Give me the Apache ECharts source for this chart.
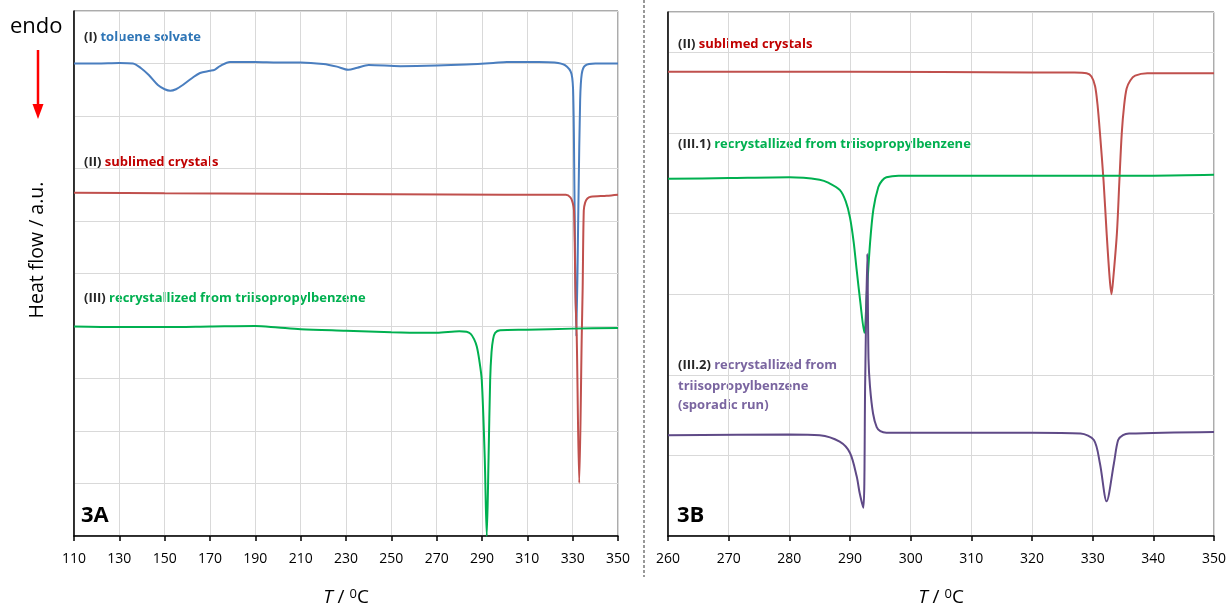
<!DOCTYPE html>
<html>
<head>
<meta charset="utf-8">
<script src="https://cdn.jsdelivr.net/npm/echarts@6/dist/echarts.min.js"></script>
<style>
  html, body { margin: 0; padding: 0; background: #fff; }
  #main { width: 1231px; height: 607px; }
</style>
</head>
<body>
<div id="main"></div>
<script>
// --- data (T in degC, heat flow in arbitrary units) ---
// panel 3A
var tolueneT  = [110, 120, 130, 136, 139.6, 143, 147, 150, 152.5, 155, 158, 162, 165.6, 170, 172, 174.4, 178.8, 190, 200, 210, 220, 226, 231, 235, 240, 254, 270, 283, 295, 301, 315, 322, 326.6, 329.5, 330.3, 330.8, 331.6, 332.6, 333.3, 334.0, 335.5, 340, 350];
var tolueneHF = [9.0, 9.0, 9.01, 9.0, 8.91, 8.78, 8.59, 8.51, 8.48, 8.51, 8.59, 8.72, 8.82, 8.86, 8.88, 8.95, 9.03, 9.03, 9.02, 9.02, 8.99, 8.94, 8.88, 8.92, 8.97, 8.95, 8.96, 8.98, 9.01, 9.03, 9.03, 9.02, 8.97, 8.8, 8.3, 6.5, 3.8, 6.5, 8.3, 8.8, 8.96, 9.0, 9.0];

var sublimedAT  = [110, 150, 200, 250, 300, 325, 327, 329, 330, 330.6, 331.3, 331.8, 332.9, 334.0, 334.4, 334.9, 335.5, 336.5, 338, 345, 350];
var sublimedAHF = [6.54, 6.53, 6.52, 6.51, 6.5, 6.5, 6.5, 6.45, 6.35, 6.2, 4.5, 3.79, 1.01, 3.79, 4.7, 6.2, 6.35, 6.43, 6.46, 6.48, 6.5];

var recrystAT  = [110, 130, 150, 170, 190, 200, 210, 230, 250, 265, 270, 280, 283.2, 285, 286.5, 287.7, 288.8, 289.9, 291.2, 292.1, 292.9, 293.6, 294.2, 294.9, 295.8, 298, 310, 330, 350];
var recrystAHF = [3.99, 3.98, 3.98, 3.99, 4.0, 3.97, 3.94, 3.91, 3.88, 3.87, 3.87, 3.9, 3.89, 3.85, 3.75, 3.61, 3.35, 2.97, 1.5, 0, 1.5, 2.97, 3.5, 3.75, 3.87, 3.92, 3.93, 3.95, 3.96];

// panel 3B
var sublimedBT  = [260, 290, 320, 327, 329, 329.8, 330.4, 330.8, 331.2, 331.8, 332.3, 332.8, 333.1, 333.4, 334.0, 334.4, 334.8, 335.2, 335.6, 336.2, 337, 339, 350];
var sublimedBHF = [5.76, 5.76, 5.75, 5.75, 5.74, 5.70, 5.58, 5.35, 5.0, 4.4, 3.76, 3.2, 3.0, 3.2, 3.76, 4.4, 5.0, 5.35, 5.55, 5.65, 5.71, 5.74, 5.74];

var recryst1T  = [260, 270, 280, 285, 286.5, 288.35, 289.3, 290, 290.6, 291.1, 291.7, 292.36, 292.8, 293.3, 293.85, 294.67, 295.3, 296, 298, 320, 340, 350];
var recryst1HF = [4.43, 4.44, 4.45, 4.42, 4.38, 4.29, 4.15, 3.95, 3.65, 3.30, 2.9, 2.52, 3.05, 3.63, 4.05, 4.33, 4.41, 4.45, 4.47, 4.47, 4.47, 4.48];

var recryst2T  = [260, 280, 285, 288.3, 290, 291.1, 291.6, 292.2, 292.5, 292.85, 293.05, 293.3, 293.8, 294.4, 295, 296, 300, 320, 328, 330.2, 331.2, 332.3, 333.5, 334.2, 335, 336, 350];
var recryst2HF = [1.25, 1.26, 1.25, 1.17, 1.03, 0.74, 0.53, 0.35, 1.9, 3.50, 2.2, 1.85, 1.52, 1.35, 1.3, 1.28, 1.28, 1.28, 1.27, 1.19, 0.9, 0.43, 0.9, 1.19, 1.25, 1.27, 1.29];

var ticksA = { min: 110, max: 350, interval: 20 };
var ticksB = { min: 260, max: 350, interval: 10 };

function zip(xs, ys) {
    return xs.map(function(x, i) { return [x, ys[i]]; });
}

var FONT = '"Open Sans", Lato, sans-serif';
var BLUE = '#4a7ebf', RED = '#c0504d', GREEN = '#00b050', PURPLE = '#5f4a87';

var myChart = echarts.init(document.getElementById('main'));

function xAxisFor(idx, t) {
    return {
        type: 'value', gridIndex: idx,
        min: t.min, max: t.max, interval: t.interval,
        axisLine: { show: true, onZero: false, lineStyle: { color: '#000', width: 1.5 } },
        axisTick: { show: true, length: 5, lineStyle: { color: '#000', width: 1.5 } },
        axisLabel: { color: '#000', fontSize: 14, fontFamily: FONT, margin: 16 },
        splitLine: { show: true, lineStyle: { color: '#d9d9d9', width: 1 } },
        name: '{i|T} / {s|0}C',
        nameLocation: 'middle', nameGap: 52,
        nameTextStyle: {
            fontSize: 19, fontFamily: FONT, color: '#000',
            rich: {
                i: { fontSize: 19, fontStyle: 'italic', fontFamily: FONT, color: '#000' },
                s: { fontSize: 13, fontFamily: FONT, color: '#000', verticalAlign: 'top', padding: [0, 0, 6, 0] }
            }
        }
    };
}

function yAxisFor(idx, max) {
    return {
        type: 'value', gridIndex: idx,
        min: 0, max: max, interval: 1,
        axisLine: { show: true, lineStyle: { color: '#000', width: 1.5 } },
        axisTick: { show: false },
        axisLabel: { show: false },
        splitLine: { show: true, lineStyle: { color: '#d9d9d9', width: 1 } }
    };
}

function line(name, xi, data, color) {
    return {
        name: name, type: 'line',
        xAxisIndex: xi, yAxisIndex: xi,
        data: data,
        smooth: 0.3,
        showSymbol: false, symbol: 'none',
        lineStyle: { color: color, width: 2 },
        z: 3
    };
}

function label(x, y, prefix, text, color) {
    return {
        type: 'text', left: x, top: y,
        style: {
            text: '{p|' + prefix + '} {t|' + text + '}',
            rich: {
                p: { fontSize: 13, fontWeight: 'bold', fontFamily: FONT, fill: '#262626' },
                t: { fontSize: 13, fontWeight: 'bold', fontFamily: FONT, fill: color }
            }
        }
    };
}

var option = {
    animation: false,
    grid: [
        { left: 74, top: 11, width: 544, height: 525, show: true, borderColor: '#595959', borderWidth: 1, outerBoundsMode: 'none', containLabel: false },
        { left: 668, top: 12, width: 546, height: 524, show: true, borderColor: '#595959', borderWidth: 1, outerBoundsMode: 'none', containLabel: false }
    ],
    xAxis: [xAxisFor(0, ticksA), xAxisFor(1, ticksB)],
    yAxis: [yAxisFor(0, 10), yAxisFor(1, 6.5)],
    series: [
        line('(I) toluene solvate', 0, zip(tolueneT, tolueneHF), BLUE),
        line('(II) sublimed crystals', 0, zip(sublimedAT, sublimedAHF), RED),
        line('(III) recrystallized', 0, zip(recrystAT, recrystAHF), GREEN),
        line('(II) sublimed crystals B', 1, zip(sublimedBT, sublimedBHF), RED),
        line('(III.1) recrystallized', 1, zip(recryst1T, recryst1HF), GREEN),
        line('(III.2) sporadic run', 1, zip(recryst2T, recryst2HF), PURPLE)
    ],
    graphic: [
        { type: 'text', left: 10, top: 16, style: { text: 'endo', fontSize: 22, fontFamily: FONT, fill: '#000' } },
        { type: 'line', shape: { x1: 38, y1: 50, x2: 38, y2: 106 }, style: { stroke: '#ff0000', lineWidth: 2.5 } },
        { type: 'polygon', shape: { points: [[32.5, 104], [43.5, 104], [38, 119]] }, style: { fill: '#ff0000' } },
        {
            type: 'text', x: 37, y: 250, rotation: Math.PI / 2,
            style: { text: 'Heat flow / a.u.', fontSize: 19.5, fontFamily: FONT, fill: '#000', align: 'center', verticalAlign: 'middle' }
        },
        label(84, 31, '(I)', 'toluene solvate', '#2e75b6'),
        label(84, 156, '(II)', 'sublimed crystals', '#c00000'),
        label(84, 292, '(III)', 'recrystallized from triisopropylbenzene', GREEN),
        { type: 'text', left: 81, top: 505, style: { text: '3A', fontSize: 22, fontWeight: 'bold', fontFamily: FONT, fill: '#000' } },
        { type: 'line', shape: { x1: 644, y1: 0, x2: 644, y2: 577 }, style: { stroke: '#555', lineWidth: 1.2, lineDash: [3, 2] } },
        label(678, 38, '(II)', 'sublimed crystals', '#c00000'),
        label(678, 138, '(III.1)', 'recrystallized from triisopropylbenzene', GREEN),
        label(678, 359, '(III.2)', 'recrystallized from', '#7a65a0'),
        { type: 'text', left: 678, top: 377, style: { text: 'triisopropylbenzene\n(sporadic run)', lineHeight: 19, fontSize: 13, fontWeight: 'bold', fontFamily: FONT, fill: '#7a65a0' } },
        { type: 'text', left: 677, top: 505, style: { text: '3B', fontSize: 22, fontWeight: 'bold', fontFamily: FONT, fill: '#000' } }
    ]
};

myChart.setOption(option);
</script>
</body>
</html>
